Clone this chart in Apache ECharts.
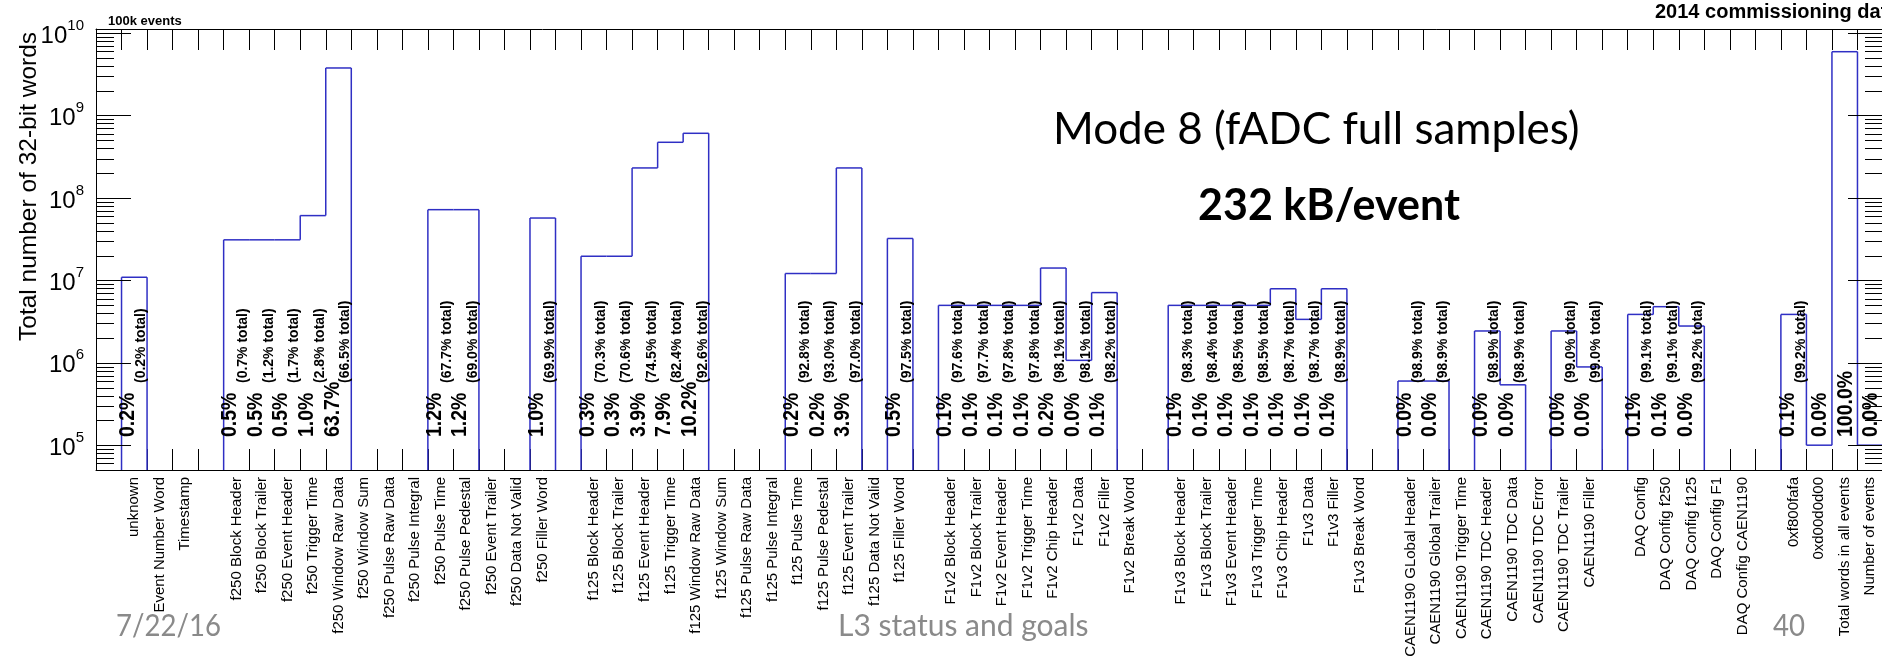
<!DOCTYPE html>
<html><head><meta charset="utf-8">
<script src="https://cdn.jsdelivr.net/npm/echarts@6/dist/echarts.min.js"></script>
<style>html,body{margin:0;padding:0;background:#fff;}#c{width:1882px;height:662px;}</style>
</head><body><div id="c"></div>
<script>
// ---------- data ----------
const categories = ["", "unknown", "Event Number Word", "Timestamp", "",
  "f250 Block Header", "f250 Block Trailer", "f250 Event Header", "f250 Trigger Time", "f250 Window Raw Data",
  "f250 Window Sum", "f250 Pulse Raw Data", "f250 Pulse Integral", "f250 Pulse Time", "f250 Pulse Pedestal",
  "f250 Event Trailer", "f250 Data Not Valid", "f250 Filler Word", "",
  "f125 Block Header", "f125 Block Trailer", "f125 Event Header", "f125 Trigger Time", "f125 Window Raw Data",
  "f125 Window Sum", "f125 Pulse Raw Data", "f125 Pulse Integral", "f125 Pulse Time", "f125 Pulse Pedestal",
  "f125 Event Trailer", "f125 Data Not Valid", "f125 Filler Word", "",
  "F1v2 Block Header", "F1v2 Block Trailer", "F1v2 Event Header", "F1v2 Trigger Time", "F1v2 Chip Header",
  "F1v2 Data", "F1v2 Filler", "F1v2 Break Word", "",
  "F1v3 Block Header", "F1v3 Block Trailer", "F1v3 Event Header", "F1v3 Trigger Time", "F1v3 Chip Header",
  "F1v3 Data", "F1v3 Filler", "F1v3 Break Word", "",
  "CAEN1190 GLobal Header", "CAEN1190 Global Trailer", "CAEN1190 Trigger Time", "CAEN1190 TDC Header",
  "CAEN1190 TDC Data", "CAEN1190 TDC Error", "CAEN1190 TDC Trailer", "CAEN1190 Filler", "",
  "DAQ Config", "DAQ Config f250", "DAQ Config f125", "DAQ Config F1", "DAQ Config CAEN1190", "",
  "0xf800fafa", "0xd00d0d00", "Total words in all events", "Number of events"];

// total number of 32-bit words per bin (0 = empty bin)
const words = [0, 1.09e7, 0, 0, 0,
  3.1e7, 3.1e7, 3.1e7, 6.1e7, 3.77e9,
  0, 0, 0, 7.2e7, 7.2e7,
  0, 0, 5.7e7, 0,
  1.96e7, 1.96e7, 2.31e8, 4.73e8, 6.08e8,
  0, 0, 0, 1.21e7, 1.21e7,
  2.31e8, 0, 3.22e7, 0,
  4.97e6, 4.97e6, 4.97e6, 4.97e6, 1.41e7,
  1.07e6, 7.1e6, 0, 0,
  4.97e6, 4.97e6, 4.97e6, 4.97e6, 7.9e6,
  3.36e6, 7.9e6, 0, 0,
  6.0e5, 6.0e5, 0, 2.43e6,
  5.4e5, 0, 2.43e6, 8.9e5, 0,
  3.86e6, 4.79e6, 2.79e6, 0, 0, 0,
  3.86e6, 1.0e5, 5.94e9, 1.0e5];

const binPercent = ["", "0.2%", "", "", "",
  "0.5%", "0.5%", "0.5%", "1.0%", "63.7%",
  "", "", "", "1.2%", "1.2%",
  "", "", "1.0%", "",
  "0.3%", "0.3%", "3.9%", "7.9%", "10.2%",
  "", "", "", "0.2%", "0.2%",
  "3.9%", "", "0.5%", "",
  "0.1%", "0.1%", "0.1%", "0.1%", "0.2%",
  "0.0%", "0.1%", "", "",
  "0.1%", "0.1%", "0.1%", "0.1%", "0.1%",
  "0.1%", "0.1%", "", "",
  "0.0%", "0.0%", "", "0.0%",
  "0.0%", "", "0.0%", "0.0%", "",
  "0.1%", "0.1%", "0.0%", "", "", "",
  "0.1%", "0.0%", "100.0%", "0.0%"];

const cumPercent = ["", "(0.2% total)", "", "", "",
  "(0.7% total)", "(1.2% total)", "(1.7% total)", "(2.8% total)", "(66.5% total)",
  "", "", "", "(67.7% total)", "(69.0% total)",
  "", "", "(69.9% total)", "",
  "(70.3% total)", "(70.6% total)", "(74.5% total)", "(82.4% total)", "(92.6% total)",
  "", "", "", "(92.8% total)", "(93.0% total)",
  "(97.0% total)", "", "(97.5% total)", "",
  "(97.6% total)", "(97.7% total)", "(97.8% total)", "(97.8% total)", "(98.1% total)",
  "(98.1% total)", "(98.2% total)", "", "",
  "(98.3% total)", "(98.4% total)", "(98.5% total)", "(98.5% total)", "(98.7% total)",
  "(98.7% total)", "(98.9% total)", "", "",
  "(98.9% total)", "(98.9% total)", "", "(98.9% total)",
  "(98.9% total)", "", "(99.0% total)", "(99.0% total)", "",
  "(99.1% total)", "(99.1% total)", "(99.2% total)", "", "", "",
  "(99.2% total)", "", "", ""];

const yMin = 5e4, yMax = 1.12e10;
const yDecades = [4, 5, 6, 7, 8, 9, 10];
const yMultipliers = [1, 2, 3, 4, 5, 6, 7, 8, 9];
// ---------- end data ----------

const FONT = '"Liberation Sans", Arial, Helvetica, sans-serif';
const SLIDE_FONT = 'Lato, "Open Sans", sans-serif';
const LINE_COLOR = '#2f2fc4';

const yTicks = [];
yDecades.forEach(d => yMultipliers.forEach(m => {
  const v = m * Math.pow(10, d);
  if (v >= yMin && v <= yMax) yTicks.push([m, v]);
}));

const chart = echarts.init(document.getElementById('c'), null, {renderer: 'canvas'});

function yOf(api, i, v, bottom) { return v > 0 ? api.coord([i, v])[1] : bottom; }

const TXT = {textAlign: 'left', textVerticalAlign: 'middle', align: 'left', verticalAlign: 'middle'};

const option = {
  animation: false,
  backgroundColor: '#fff',
  grid: {left: 96, right: -1, top: 29, bottom: 192, show: false, outerBoundsMode: 'none', containLabel: false},
  xAxis: [{
    type: 'category', data: categories, position: 'bottom', boundaryGap: true,
    axisLine: {show: true, lineStyle: {color: '#000', width: 1}},
    axisTick: {show: true, inside: true, length: 21, interval: 0, lineStyle: {color: '#000', width: 1}},
    axisLabel: {show: true, interval: 0, rotate: 90, margin: 7, fontSize: 15, fontFamily: FONT, color: '#000', hideOverlap: false},
    splitLine: {show: false}
  }, {
    type: 'category', data: categories, position: 'top', boundaryGap: true,
    axisLine: {show: true, lineStyle: {color: '#000', width: 1}},
    axisTick: {show: true, inside: true, length: 21, interval: 0, lineStyle: {color: '#000', width: 1}},
    axisLabel: {show: false},
    splitLine: {show: false}
  }],
  yAxis: [{
    type: 'log', logBase: 10, min: yMin, max: yMax,
    axisLine: {show: true, lineStyle: {color: '#000', width: 1}},
    axisTick: {show: false},
    splitLine: {show: false},
    minorTick: {show: false},
    axisLabel: {
      show: true, margin: 12, showMinLabel: false, showMaxLabel: false,
      formatter: function (v) {
        const l = Math.log10(v), e = Math.round(l);
        if (Math.abs(l - e) > 1e-6) return '';
        return '{b|10}{e|' + e + '}';
      },
      rich: {
        b: {fontSize: 24, fontFamily: FONT, color: '#000', verticalAlign: 'bottom', lineHeight: 30},
        e: {fontSize: 15, fontFamily: FONT, color: '#000', verticalAlign: 'top', lineHeight: 30}
      }
    }
  }, {
    type: 'log', logBase: 10, min: yMin, max: yMax, position: 'right',
    axisLine: {show: true, lineStyle: {color: '#000', width: 1}},
    axisTick: {show: false}, axisLabel: {show: false}, splitLine: {show: false}
  }],
  series: [{
    type: 'custom', name: 'words', xAxisIndex: 0, yAxisIndex: 0, silent: true, z: 3,
    data: words.map((v, i) => [i, v]),
    renderItem: function (params, api) {
      const i = params.dataIndex;
      const cs = params.coordSys;
      const bottom = cs.y + cs.height;
      const cx = api.coord([i, yMin])[0];
      const bw = api.size([1, yMin])[0];
      const xl = cx - bw / 2, xr = cx + bw / 2;
      const v = words[i], pv = i > 0 ? words[i - 1] : 0;
      const y = yOf(api, i, v, bottom), py = yOf(api, i - 1, pv, bottom);
      const st = {stroke: LINE_COLOR, lineWidth: 1.5, fill: null};
      const ch = [];
      if (v > 0) ch.push({type: 'line', shape: {x1: xl, y1: y, x2: xr, y2: y}, style: st});
      if (v > 0 || pv > 0) ch.push({type: 'line', shape: {x1: xl, y1: py, x2: xl, y2: y}, style: st});
      if (i === words.length - 1 && v > 0) ch.push({type: 'line', shape: {x1: xr, y1: y, x2: xr, y2: bottom}, style: st});
      return {type: 'group', children: ch};
    }
  }, {
    type: 'custom', name: 'yticks', xAxisIndex: 0, yAxisIndex: 0, silent: true, z: 4,
    data: yTicks.map(t => [0, t[1]]),
    renderItem: function (params, api) {
      const cs = params.coordSys;
      const t = yTicks[params.dataIndex];
      const y = Math.round(api.coord([0, t[1]])[1]) + 0.5;
      const len = t[0] === 1 ? 35 : 18;
      const st = {stroke: '#000', lineWidth: 1};
      return {type: 'group', children: [
        {type: 'line', shape: {x1: cs.x, y1: y, x2: cs.x + len, y2: y}, style: st},
        {type: 'line', shape: {x1: cs.x + cs.width, y1: y, x2: cs.x + cs.width - len, y2: y}, style: st}
      ]};
    }
  }, {
    type: 'custom', name: 'labels', xAxisIndex: 0, yAxisIndex: 0, silent: true, z: 5,
    data: words.map((v, i) => [i, v]),
    renderItem: function (params, api) {
      const i = params.dataIndex;
      const cs = params.coordSys;
      const bottom = cs.y + cs.height;
      const cx = api.coord([i, yMin])[0];
      const ch = [];
      const hasCum = cumPercent[i] !== '';
      if (binPercent[i] !== '') {
        ch.push({type: 'text', x: hasCum ? cx - 6 : cx + 1, y: bottom - 33, rotation: Math.PI / 2, scaleY: 1.12,
          style: Object.assign({text: binPercent[i], fill: '#000', font: 'bold 19.5px ' + FONT}, TXT)});
      }
      if (hasCum) {
        ch.push({type: 'text', x: cx + 7, y: bottom - 87, rotation: Math.PI / 2,
          style: Object.assign({text: cumPercent[i], fill: '#000', font: 'bold 14px ' + FONT}, TXT)});
      }
      return {type: 'group', children: ch};
    }
  }],
  graphic: [
    {type: 'text', x: 29.5, y: 341, rotation: Math.PI / 2,
      style: Object.assign({text: 'Total number of 32-bit words', fill: '#000', font: '24.5px ' + FONT}, TXT)},
    {type: 'text', x: 108, y: 21,
      style: Object.assign({text: '100k events', fill: '#000', font: 'bold 13px ' + FONT}, TXT)},
    {type: 'text', x: 1655, y: 12,
      style: Object.assign({text: '2014 commissioning data', fill: '#000', font: 'bold 20px ' + FONT}, TXT)},
    {type: 'text', x: 1053, y: 130,
      style: Object.assign({text: 'Mode 8 (fADC full samples)', fill: '#000', font: '44px ' + SLIDE_FONT}, TXT)},
    {type: 'text', x: 1198, y: 206,
      style: Object.assign({text: '232 kB/event', fill: '#000', font: 'bold 43px ' + SLIDE_FONT}, TXT)},
    {type: 'text', x: 116, y: 626, scaleX: 0.92,
      style: Object.assign({text: '7/22/16', fill: '#8a8a8a', font: '30px ' + SLIDE_FONT}, TXT)},
    {type: 'text', x: 838, y: 626,
      style: Object.assign({text: 'L3 status and goals', fill: '#8a8a8a', font: '30px ' + SLIDE_FONT}, TXT)},
    {type: 'text', x: 1773, y: 626, scaleX: 0.92,
      style: Object.assign({text: '40', fill: '#8a8a8a', font: '30px ' + SLIDE_FONT}, TXT)}
  ]
};
chart.setOption(option);
</script>
</body></html>
